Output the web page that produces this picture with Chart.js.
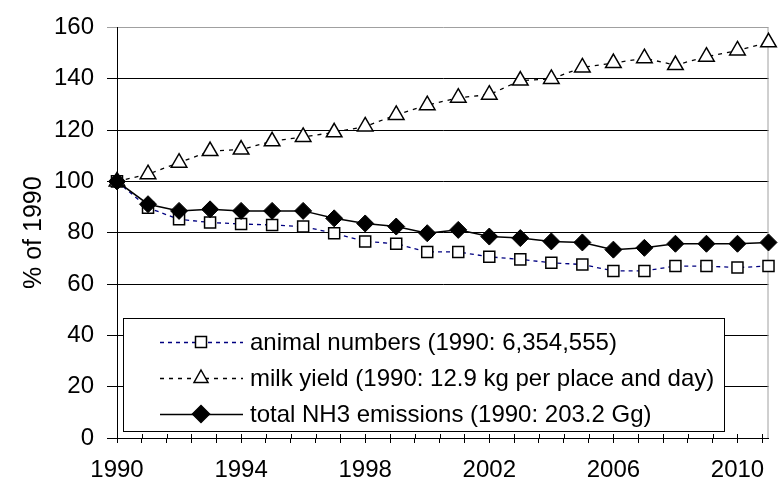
<!DOCTYPE html>
<html>
<head>
<meta charset="utf-8">
<script src="https://cdn.jsdelivr.net/npm/chart.js@4.4.0/dist/chart.umd.min.js"></script>
<style>
  html, body { margin: 0; padding: 0; background: #fff; }
  #grafico { display: block; }
</style>
</head>
<body>
<canvas id="grafico" width="779" height="488"></canvas>
<script>
// years on the x axis
var anni = [1990, 1991, 1992, 1993, 1994, 1995, 1996, 1997, 1998, 1999, 2000,
            2001, 2002, 2003, 2004, 2005, 2006, 2007, 2008, 2009, 2010, 2011];
// % of 1990
var animali = [100, 89.7, 85.2, 84.0, 83.4, 83.0, 82.4, 79.8, 76.6, 75.7, 72.5,
               72.5, 70.6, 69.6, 68.3, 67.6, 65.1, 65.1, 67.0, 67.0, 66.4, 67.0];
var latte = [100, 102.8, 107.3, 111.8, 112.4, 115.6, 117.3, 119.1, 121.4, 125.9, 129.7,
             132.6, 133.8, 139.3, 139.9, 144.4, 146.1, 148.0, 145.3, 148.6, 151.0, 154.2];
var emissioni = [100, 91.1, 88.5, 89.1, 88.5, 88.5, 88.5, 85.6, 83.6, 82.4, 79.8,
                 81.1, 78.5, 77.9, 76.6, 76.2, 73.4, 74.1, 75.7, 75.7, 75.7, 76.2];
var etichette_legenda = ['animal numbers (1990: 6,354,555)',
                         'milk yield (1990: 12.9 kg per place and day)',
                         'total NH3 emissions (1990: 203.2 Gg)'];
var tacche_y = [0, 20, 40, 60, 80, 100, 120, 140, 160];
var etichette_x = [1990, 1994, 1998, 2002, 2006, 2010];
var titolo_y = '% of 1990';

var font_base = 'Liberation Sans, Arial, sans-serif';

function a_punti(valori) {
    var punti = [];
    for (var i = 0; i < anni.length; i++) {
        punti.push({x: anni[i], y: valori[i]});
    }
    return punti;
}

// draws a marker like the ones on the lines (used by the legend)
function disegna_marcatore(ctx, tipo, x, y) {
    ctx.save();
    ctx.setLineDash([]);
    ctx.lineWidth = 1.5;
    ctx.strokeStyle = '#000';
    ctx.beginPath();
    if (tipo == 'rect') {
        ctx.fillStyle = '#fff';
        ctx.rect(x - 5.5, y - 5.5, 11, 11);
    } else if (tipo == 'triangle') {
        ctx.fillStyle = '#fff';
        ctx.moveTo(x, y - 8);
        ctx.lineTo(x + 7, y + 4.5);
        ctx.lineTo(x - 7, y + 4.5);
        ctx.closePath();
    } else {
        ctx.fillStyle = '#000';
        ctx.moveTo(x, y - 8.5);
        ctx.lineTo(x + 8.5, y);
        ctx.lineTo(x, y + 8.5);
        ctx.lineTo(x - 8.5, y);
        ctx.closePath();
    }
    ctx.fill();
    ctx.stroke();
    ctx.restore();
}

// right border of the plot, ticks crossing the x axis and the boxed legend
var cornice_legenda = {
    id: 'cornice_legenda',
    beforeDatasetsDraw: function(chart) {
        var ctx = chart.ctx;
        var area = chart.chartArea;
        var asse_x = chart.scales.x;
        ctx.save();
        ctx.strokeStyle = '#a0a0a0';
        ctx.lineWidth = 1;
        ctx.beginPath();
        ctx.moveTo(area.right - 0.5, area.top);
        ctx.lineTo(area.right - 0.5, area.bottom);
        ctx.stroke();
        // the x ticks go a little above the axis too
        ctx.strokeStyle = '#000';
        ctx.beginPath();
        for (var i = 0; i < asse_x.ticks.length; i++) {
            var px = Math.round(asse_x.getPixelForValue(asse_x.ticks[i].value)) + 0.5;
            ctx.moveTo(px, area.bottom - 4);
            ctx.lineTo(px, area.bottom);
        }
        ctx.stroke();
        ctx.restore();
    },
    afterDatasetsDraw: function(chart) {
        var ctx = chart.ctx;
        var box = {left: 123, top: 318, right: 725, bottom: 432};
        ctx.save();
        ctx.fillStyle = '#fff';
        ctx.fillRect(box.left, box.top, box.right - box.left, box.bottom - box.top);
        ctx.strokeStyle = '#000';
        ctx.lineWidth = 1;
        ctx.strokeRect(box.left + 0.5, box.top + 0.5, box.right - box.left - 1, box.bottom - box.top - 1);
        var righe = [342, 378, 414];
        ctx.font = '24px ' + font_base;
        ctx.textBaseline = 'middle';
        ctx.textAlign = 'left';
        for (var i = 0; i < chart.data.datasets.length; i++) {
            var ds = chart.data.datasets[i];
            var y = righe[i];
            ctx.save();
            ctx.strokeStyle = ds.borderColor;
            ctx.lineWidth = ds.borderWidth;
            ctx.setLineDash(ds.borderDash || []);
            ctx.beginPath();
            ctx.moveTo(160, y + 0.5);
            ctx.lineTo(243, y + 0.5);
            ctx.stroke();
            ctx.restore();
            disegna_marcatore(ctx, ds.pointStyle, 201, y);
            ctx.fillStyle = '#000';
            ctx.fillText(etichette_legenda[i], 250, y + 1);
        }
        ctx.restore();
    }
};

var ctx = document.getElementById('grafico');
var grafico = new Chart(ctx, {
    type: 'line',
    data: {
        datasets: [{
            label: etichette_legenda[0],
            data: a_punti(animali),
            borderColor: '#000080',
            borderWidth: 1.3,
            borderDash: [4, 4],
            pointStyle: 'rect',
            pointRadius: 7.8,
            pointBackgroundColor: '#fff',
            pointBorderColor: '#000',
            pointBorderWidth: 1.5,
            clip: false,
            order: 2
        }, {
            label: etichette_legenda[1],
            data: a_punti(latte),
            borderColor: '#000',
            borderWidth: 1.3,
            borderDash: [4, 5],
            pointStyle: 'triangle',
            pointRadius: 9,
            pointBackgroundColor: '#fff',
            pointBorderColor: '#000',
            pointBorderWidth: 1.5,
            clip: false,
            order: 1
        }, {
            label: etichette_legenda[2],
            data: a_punti(emissioni),
            borderColor: '#000',
            borderWidth: 1.5,
            pointStyle: 'rectRot',
            pointRadius: 8.5,
            pointBackgroundColor: '#000',
            pointBorderColor: '#000',
            pointBorderWidth: 1,
            clip: false,
            order: 0
        }]
    },
    options: {
        responsive: false,
        animation: false,
        devicePixelRatio: 1,
        layout: {padding: {top: 20, right: 2, left: 0, bottom: 0}},
        plugins: {
            legend: {display: false},
            tooltip: {enabled: false}
        },
        scales: {
            x: {
                type: 'linear',
                min: anni[0],
                max: anni[anni.length - 1],
                afterBuildTicks: function(scale) {
                    // a tick every 0.8 years, labels every 4
                    var tacche = [];
                    for (var k = 0; k * 8 <= (scale.max - scale.min) * 10; k++) {
                        tacche.push({value: (anni[0] * 10 + k * 8) / 10});
                    }
                    scale.ticks = tacche;
                },
                afterFit: function(scale) {
                    scale.height = 50;
                },
                ticks: {
                    autoSkip: false,
                    maxRotation: 0,
                    padding: 13,
                    color: '#000',
                    font: {family: font_base, size: 24},
                    callback: function(valore) {
                        var anno = Math.round(valore);
                        if (Math.abs(valore - anno) < 0.001 && etichette_x.indexOf(anno) >= 0) {
                            return String(anno);
                        }
                        return '';
                    }
                },
                grid: {
                    drawOnChartArea: false,
                    color: '#000',
                    tickLength: 5
                },
                border: {color: '#000', width: 1}
            },
            y: {
                min: tacche_y[0],
                max: tacche_y[tacche_y.length - 1],
                afterBuildTicks: function(scale) {
                    scale.ticks = tacche_y.map(function(v) { return {value: v}; });
                },
                afterFit: function(scale) {
                    scale.width = 117;
                },
                ticks: {
                    padding: 13,
                    color: '#000',
                    font: {family: font_base, size: 24}
                },
                grid: {
                    color: function(c) {
                        return c.tick && c.tick.value == 160 ? '#a0a0a0' : '#000';
                    },
                    tickLength: 10,
                    lineWidth: 1
                },
                border: {color: '#000', width: 1},
                title: {
                    display: true,
                    text: titolo_y,
                    color: '#000',
                    font: {family: font_base, size: 25},
                    padding: {top: 19, bottom: 0}
                }
            }
        }
    },
    plugins: [cornice_legenda]
});
</script>
</body>
</html>
